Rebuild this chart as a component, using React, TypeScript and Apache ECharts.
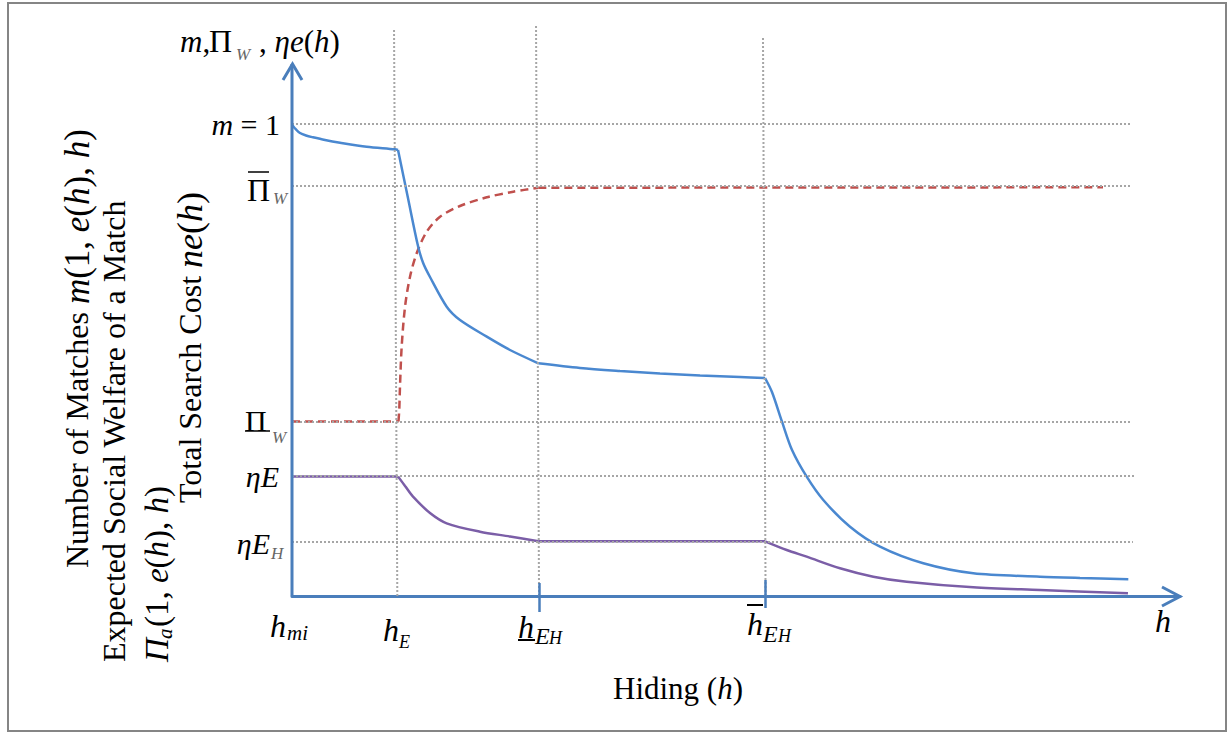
import React, { useEffect, useRef } from 'react';
import * as echarts from 'echarts';

// ---- Axis ranges (abstract units: h from 0 to 100, m = 1 at top level) ----
const X_MIN = 0;
const X_MAX = 100;
const Y_MIN = -0.1;
const Y_MAX = 1.21;
const Y_AXIS_TIP = 1.127;

// ---- Reference levels (horizontal dotted lines): m=1, upper Pi_W, lower Pi_W, eta*E, eta*E_H ----
const levelValues = [1.0, 0.8697, 0.3697, 0.2542, 0.1155];
const levelEnds = [94.4, 94.4, 94.4, 94.9, 94.7];

// ---- Reference hiding levels (vertical dotted lines): h_E, lower h_EH, upper h_EH ----
const hRefBottom = [11.86, 27.82, 53.33];
const hRefTop = [11.49, 27.48, 53.04];
const hRefTopValue = [1.203, 1.21, 1.184];

// ---- Axis tick marks at lower / upper h_EH ----
const tickH = [27.82, 53.33];
const tickHigh = [0.0275, 0.0339];
const tickLow = [-0.0339, -0.0254];

// ---- Number of matches m(1, e(h), h) ----
const matchesH = [0, 0.11, 0.45, 0.9, 1.58, 2.36, 3.72, 5.41, 8.41, 11.6, 11.94, 13.06, 14.19, 14.78, 15.54, 17.42, 18.92, 21.93, 24.55, 27.74, 32.43, 36.94, 41.44, 45.95, 50.45, 53.27, 54.05, 55.18, 56.31, 57.96, 59.83, 62.84, 66.22, 71.09, 76.72, 84.23, 88.74, 94.18];
const matchesV = [1.0, 0.9958, 0.9884, 0.9809, 0.9756, 0.9718, 0.9661, 0.9604, 0.9519, 0.9464, 0.9449, 0.8432, 0.7415, 0.7049, 0.6758, 0.6129, 0.5847, 0.5494, 0.5212, 0.493, 0.4831, 0.4767, 0.4714, 0.4672, 0.464, 0.4619, 0.4322, 0.3693, 0.3093, 0.2528, 0.2034, 0.1468, 0.1045, 0.0693, 0.0481, 0.0409, 0.0381, 0.0354];
const matchesBreaks = [0, 10, 19, 25, 37];

// ---- Expected social welfare of a match Pi_a(1, e(h), h) ----
const welfareH = [0, 11.99, 12.08, 12.16, 12.35, 12.73, 13.29, 14.04, 15.17, 16.67, 18.92, 21.93, 24.92, 27.74, 91.33];
const welfareV = [0.3697, 0.3697, 0.395, 0.4434, 0.5282, 0.6129, 0.6765, 0.7261, 0.7718, 0.8036, 0.8263, 0.8447, 0.8566, 0.865, 0.8659];
const welfareBreaks = [0, 1, 13, 14];

// ---- Total search cost eta*e(h) ----
const costH = [0, 11.94, 12.73, 13.63, 15.54, 17.42, 21.17, 24.55, 27.74, 53.27, 55.71, 57.96, 61.71, 65.46, 69.22, 76.72, 84.23, 94.14];
const costV = [0.2532, 0.2532, 0.2331, 0.2104, 0.1758, 0.154, 0.1362, 0.1261, 0.1159, 0.1159, 0.0975, 0.0833, 0.0587, 0.0409, 0.0303, 0.0184, 0.0127, 0.0057];
const costBreaks = [0, 1, 8, 9, 17];

const zip = (xs: number[], ys: number[]) => xs.map((x, i) => [x, ys[i]]);

const AXIS = '#4a7ebb';
const BLUE = '#4a88d0';
const RED = '#c0504d';
const PURPLE = '#7b5ea7';
const GRID = '#a6a6a6';
const FF = '"Liberation Serif", "Times New Roman", serif';
const fnt = (s: number, it = false) => `${it ? 'italic ' : ''}${s}px ${FF}`;

function segments(name: string, xs: number[], ys: number[], breaks: number[], lineStyle: any, z: number) {
  const pts = zip(xs, ys);
  const out: any[] = [];
  for (let k = 0; k < breaks.length - 1; k++) {
    const part = pts.slice(breaks[k], breaks[k + 1] + 1);
    out.push({
      type: 'line', name: `${name}-${k}`, data: part, showSymbol: false, silent: true, z,
      smooth: part.length > 2 ? 0.3 : false,
      lineStyle,
    });
  }
  return out;
}

function T(text: string, x: number, y: number, size: number, o: any = {}) {
  const fill = o.fill || '#000';
  const ms = o.mathSize || size;
  return {
    type: 'text',
    x,
    y,
    rotation: o.rot || 0,
    silent: true,
    z: 10,
    style: {
      text,
      font: fnt(size, !!o.italic),
      fill,
      textAlign: o.align || 'left',
      textVerticalAlign: 'middle',
      rich: { i: { font: fnt(ms, true), fill }, u: { font: fnt(ms, false), fill } },
    },
  };
}

function L(x1: number, y1: number, x2: number, y2: number, w = 1.5, color = '#000') {
  return { type: 'line', silent: true, z: 10, shape: { x1, y1, x2, y2 }, style: { stroke: color, lineWidth: w } };
}

export default function App() {
  const ref = useRef<HTMLDivElement>(null);
  useEffect(() => {
    if (!ref.current) return;
    const chart = echarts.init(ref.current, undefined, { renderer: 'svg' });
    const rot = Math.PI / 2;
    const option: any = {
      animation: false,
      grid: { left: 292, right: 48, top: 24.88, bottom: 92.8, containLabel: false },
      xAxis: {
        type: 'value', min: X_MIN, max: X_MAX,
        axisLine: { show: true, onZero: true, lineStyle: { color: AXIS, width: 3 } },
        axisTick: { show: false }, axisLabel: { show: false }, splitLine: { show: false },
      },
      yAxis: {
        type: 'value', min: Y_MIN, max: Y_MAX,
        axisLine: { show: false }, axisTick: { show: false }, axisLabel: { show: false }, splitLine: { show: false },
      },
      series: [
        {
          type: 'line', name: 'grid', data: [[0, 0]], showSymbol: false, silent: true, z: 1,
          lineStyle: { opacity: 0 },
          markLine: {
            silent: true, animation: false, symbol: ['none', 'none'], label: { show: false },
            lineStyle: { color: GRID, width: 2, type: [2, 2] },
            emphasis: { disabled: true },
            data: [
              ...levelValues.map((v, i) => [{ coord: [0, v] }, { coord: [levelEnds[i], v] }]),
              ...hRefBottom.map((x, i) => [{ coord: [x, 0] }, { coord: [hRefTop[i], hRefTopValue[i]] }]),
            ],
          },
        },
        {
          type: 'line', name: 'yaxis', data: [[0, 0], [0, Y_AXIS_TIP]], showSymbol: false, silent: true, z: 6,
          lineStyle: { color: AXIS, width: 3 },
          markLine: {
            silent: true, animation: false, symbol: ['none', 'none'], label: { show: false },
            lineStyle: { color: AXIS, width: 2.5, type: 'solid' },
            emphasis: { disabled: true },
            data: tickH.map((x, i) => [{ coord: [x, tickLow[i]] }, { coord: [x, tickHigh[i]] }]),
          },
        },
        ...segments('matches', matchesH, matchesV, matchesBreaks, { color: BLUE, width: 2.5 }, 4),
        ...segments('welfare', welfareH, welfareV, welfareBreaks, { color: RED, width: 2.5, type: [8, 5] }, 3),
        ...segments('cost', costH, costV, costBreaks, { color: PURPLE, width: 2.5 }, 3),
      ],
      graphic: [
        { type: 'rect', silent: true, shape: { x: 8, y: 3, width: 1218, height: 728 }, style: { fill: 'none', stroke: '#858585', lineWidth: 2 } },
        { type: 'polyline', silent: true, z: 8, shape: { points: [[283, 80], [292.5, 64], [302, 80]] }, style: { stroke: AXIS, lineWidth: 3, fill: 'none' } },
        { type: 'polyline', silent: true, z: 8, shape: { points: [[1162, 587], [1180, 596.5], [1162, 606]] }, style: { stroke: AXIS, lineWidth: 3, fill: 'none' } },
        // top axis title
        T('{i|m},', 180, 41, 31),
        T('Π', 209, 41, 32),
        T('W', 236, 54, 17, { italic: true, fill: '#666' }),
        T(', {i|ηe}({i|h})', 259, 41, 31),
        // y levels
        T('{i|m} = 1', 280, 124, 30, { align: 'right' }),
        T('Π', 247, 190, 32),
        L(248, 172, 269, 172, 1.5),
        T('W', 273, 198, 17, { italic: true, fill: '#666' }),
        T('Π', 245, 420, 30),
        L(245, 431, 270, 431, 1.5),
        T('W', 272, 437, 17, { italic: true, fill: '#666' }),
        T('ηE', 279, 476, 30, { italic: true, align: 'right' }),
        T('ηE', 270, 543, 30, { italic: true, align: 'right' }),
        T('H', 271, 553, 17, { italic: true, fill: '#666' }),
        // x levels
        T('h', 270, 626, 32, { italic: true }),
        T('mi', 287, 633, 21, { italic: true }),
        T('h', 383, 630, 32, { italic: true }),
        T('E', 399, 642, 18, { italic: true }),
        T('h', 518, 627, 32, { italic: true }),
        L(518, 640, 535, 640, 2),
        T('E', 535, 636, 24, { italic: true }),
        T('H', 549, 638, 18, { italic: true }),
        L(747, 605, 763, 605, 2),
        T('h', 747, 624, 32, { italic: true }),
        T('E', 763, 634, 24, { italic: true }),
        T('H', 778, 636, 18, { italic: true }),
        T('h', 1155, 621, 32, { italic: true }),
        T('Hiding ({i|h})', 678, 688, 31, { align: 'center' }),
        // rotated y title
        T('Number of Matches {i|m}{u|(1, }{i|e}{u|(}{i|h}{u|), }{i|h}{u|)}', 77, 568, 32, { rot, mathSize: 35 }),
        T('Expected Social Welfare of a Match', 114, 662, 32, { rot }),
        {
          type: 'group', x: 157, y: 662, rotation: rot, silent: true,
          children: [
            T('Π', 0, 0, 33, { italic: true }),
            T('a', 23, 8, 21, { italic: true }),
            T('{u|(1, }{i|e}{u|(}{i|h}{u|), }{i|h}{u|)}', 35, 0, 33, { mathSize: 33 }),
          ],
        },
        T('Total Search Cost {i|ne}{u|(}{i|h}{u|)}', 190, 503, 32, { rot, mathSize: 36 }),
      ],
    };
    chart.setOption(option);
    return () => chart.dispose();
  }, []);
  return <div ref={ref} style={{ position: 'absolute', left: 0, top: 0, width: 1228, height: 736, background: '#fff' }} />;
}
